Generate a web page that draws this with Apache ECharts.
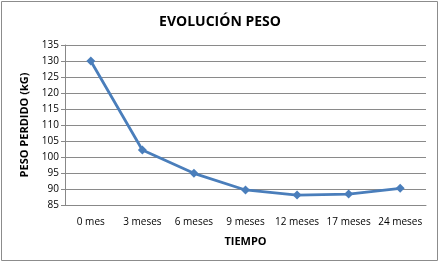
<!DOCTYPE html>
<html><head><meta charset="utf-8">
<script src="https://cdn.jsdelivr.net/npm/echarts@6/dist/echarts.min.js"></script>
<style>html,body{margin:0;padding:0;background:#fff}#c{width:440px;height:264px}</style>
</head><body><div id="c"></div>
<script>
const categories = ['0 mes','3 meses','6 meses','9 meses','12 meses','17 meses','24 meses'];
const weights = [130, 102.2, 94.9, 89.7, 88.1, 88.4, 90.2];
const yTicks = {min: 85, max: 135, interval: 5};
const chart = echarts.init(document.getElementById('c'));
const F = 'Open Sans';
chart.setOption({
  animation: false,
  graphic: [{type:'rect', shape:{x:1.5,y:1.5,width:436,height:259}, style:{fill:'none', stroke:'#8c8c8c', lineWidth:1}}],
  title: {text:'EVOLUCIÓN PESO', left:'center', top:10, textStyle:{fontFamily:F, fontSize:14, fontWeight:'bold', color:'#000'}},
  grid: {left:65, right:14, top:45, bottom:59},
  xAxis: {type:'category', data:categories, boundaryGap:true,
    name:'TIEMPO', nameLocation:'middle', nameGap:31,
    nameTextStyle:{fontFamily:F, fontSize:11, fontWeight:'bold', color:'#000'},
    axisLine:{lineStyle:{color:'#888'}}, axisTick:{show:false},
    axisLabel:{fontFamily:F, fontSize:10, color:'#000', margin:12, interval:0}},
  yAxis: {type:'value', min:yTicks.min, max:yTicks.max, interval:yTicks.interval,
    name:'PESO PERDIDO (kG)', nameLocation:'middle', nameGap:35,
    nameTextStyle:{fontFamily:F, fontSize:11, fontWeight:'bold', color:'#000'},
    axisLine:{show:true, lineStyle:{color:'#888'}}, axisTick:{show:true, length:4, lineStyle:{color:'#888'}},
    splitLine:{lineStyle:{color:'#8a8a8a'}},
    axisLabel:{fontFamily:F, fontSize:10, color:'#000', margin:6}},
  series: [{type:'line', data:weights, symbol:'diamond', symbolSize:9,
    lineStyle:{color:'#4a7ebb', width:2.8}, itemStyle:{color:'#4a7ebb'}}]
});
</script></body></html>
